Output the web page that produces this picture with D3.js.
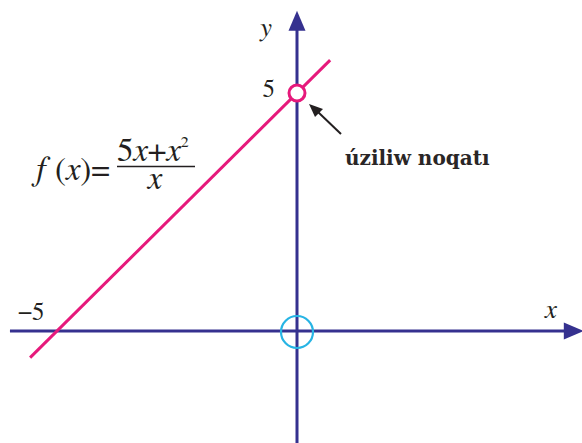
<!DOCTYPE html>
<html>
<head>
<meta charset="utf-8">
<script src="https://cdn.jsdelivr.net/npm/d3@7"></script>
<style>
  body { margin: 0; background: #fff; }
  svg { display: block; }
</style>
</head>
<body>
<svg id="chart" width="582" height="443"></svg>
<script>
// data (in graph units)
const lineX = [-5.56, 0.69];
const lineY = [-0.56, 5.69];
const holePoint = [0, 5];
const xTicks = [-5];
const xTickLabels = ["\u22125"];
const yTicks = [5];
const yTickLabels = ["5"];
const xAxisExtent = [-5.98, 5.6];
const yAxisExtent = [-2.36, 6.35];

const width = 582,
  height = 443;

const serif = "FreeSerif";

const svg = d3.select("#chart");

const x = d3.scaleLinear().domain([-5, 0]).range([57, 297]);
const y = d3.scaleLinear().domain([0, 5]).range([331, 93]);

const axisColor = "#35318f";
const lineColor = "#e6197b";
const ink = "#231f20";

// x axis
svg
  .append("line")
  .attr("x1", x(xAxisExtent[0]))
  .attr("x2", x(xAxisExtent[1]))
  .attr("y1", y(0))
  .attr("y2", y(0))
  .attr("stroke", axisColor)
  .attr("stroke-width", 3);

svg
  .append("path")
  .attr(
    "d",
    `M${x(xAxisExtent[1]) + 18},${y(0)} L${x(xAxisExtent[1]) - 2},${y(0) - 8.5} L${x(xAxisExtent[1]) - 2},${y(0) + 8.5} Z`
  )
  .attr("fill", axisColor);

// y axis
svg
  .append("line")
  .attr("x1", x(0))
  .attr("x2", x(0))
  .attr("y1", y(yAxisExtent[0]))
  .attr("y2", y(yAxisExtent[1]))
  .attr("stroke", axisColor)
  .attr("stroke-width", 3);

svg
  .append("path")
  .attr(
    "d",
    `M${x(0)},${y(yAxisExtent[1]) - 18} L${x(0) - 8.5},${y(yAxisExtent[1]) + 2} L${x(0) + 8.5},${y(yAxisExtent[1]) + 2} Z`
  )
  .attr("fill", axisColor);

// axis names
svg
  .append("text")
  .attr("x", 545)
  .attr("y", 318)
  .attr("fill", ink)
  .style("font-family", serif)
  .style("font-style", "italic")
  .style("font-size", "27px")
  .text("x");

svg
  .append("text")
  .attr("x", 259)
  .attr("y", 36)
  .attr("fill", ink)
  .style("font-family", serif)
  .style("font-style", "italic")
  .style("font-size", "27px")
  .text("y");

// tick labels
svg
  .selectAll(".xtick")
  .data(xTicks)
  .enter()
  .append("text")
  .attr("class", "xtick")
  .attr("x", (d) => x(d) - 39)
  .attr("y", y(0) - 11)
  .attr("fill", ink)
  .style("font-family", serif)
  .style("font-size", "25px")
  .text((d, i) => xTickLabels[i]);

svg
  .selectAll(".ytick")
  .data(yTicks)
  .enter()
  .append("text")
  .attr("class", "ytick")
  .attr("x", x(0) - 22)
  .attr("y", (d) => y(d) + 4)
  .attr("text-anchor", "end")
  .attr("fill", ink)
  .style("font-family", serif)
  .style("font-size", "25px")
  .text((d, i) => yTickLabels[i]);

// the line
const line = d3
  .line()
  .x((d) => x(d[0]))
  .y((d) => y(d[1]));

svg
  .append("path")
  .datum(lineX.map((d, i) => [d, lineY[i]]))
  .attr("d", line)
  .attr("fill", "none")
  .attr("stroke", lineColor)
  .attr("stroke-width", 3);

// origin circle
svg
  .append("circle")
  .attr("cx", x(0))
  .attr("cy", y(0) + 1)
  .attr("r", 16)
  .attr("fill", "none")
  .attr("stroke", "#27b4e4")
  .attr("stroke-width", 2.2);

// hole
svg
  .append("circle")
  .attr("cx", x(holePoint[0]))
  .attr("cy", y(holePoint[1]))
  .attr("r", 8)
  .attr("fill", "#fff")
  .attr("stroke", lineColor)
  .attr("stroke-width", 3);

// pointer arrow
svg
  .append("line")
  .attr("x1", 341)
  .attr("y1", 134)
  .attr("x2", 318)
  .attr("y2", 112)
  .attr("stroke", ink)
  .attr("stroke-width", 2);

svg
  .append("path")
  .attr("d", "M309,104 L323,109 L315,117 Z")
  .attr("fill", ink);

svg
  .append("text")
  .attr("x", 345)
  .attr("y", 165)
  .attr("fill", "#2a2626")
  .style("font-family", "DejaVu Serif")
  .style("font-size", "20px")
  .style("font-weight", "bold")
  .text("úziliw noqatı");

// formula
const formula = svg
  .append("g")
  .style("font-family", serif)
  .style("font-size", "33px")
  .attr("fill", ink);

formula
  .append("text")
  .attr("x", 34)
  .attr("y", 180)
  .html(
    '<tspan font-style="italic">f</tspan><tspan dx="7">(</tspan><tspan font-style="italic">x</tspan><tspan>)=</tspan>'
  );

formula
  .append("text")
  .attr("x", 117)
  .attr("y", 161)
  .html(
    '<tspan>5</tspan><tspan font-style="italic">x</tspan><tspan>+</tspan><tspan font-style="italic">x</tspan><tspan dy="-14" font-size="16px">2</tspan>'
  );

formula
  .append("line")
  .attr("x1", 117)
  .attr("x2", 195)
  .attr("y1", 166.5)
  .attr("y2", 166.5)
  .attr("stroke", ink)
  .attr("stroke-width", 1.3);

formula
  .append("text")
  .attr("x", 155)
  .attr("y", 189)
  .attr("text-anchor", "middle")
  .style("font-style", "italic")
  .text("x");
</script>
</body>
</html>
